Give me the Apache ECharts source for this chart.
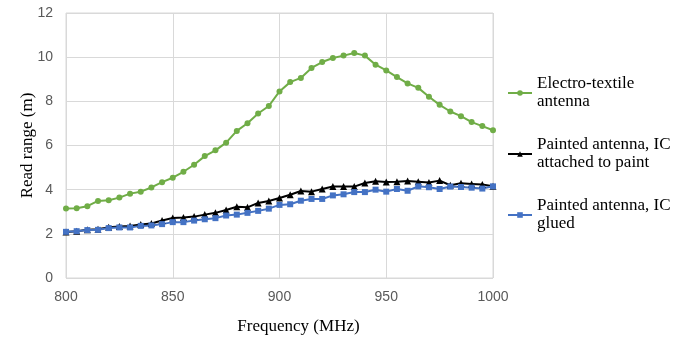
<!DOCTYPE html>
<html>
<head>
<meta charset="utf-8">
<script src="https://cdn.jsdelivr.net/npm/echarts@6/dist/echarts.min.js"></script>
<style>
  html, body { margin: 0; padding: 0; background: #fff; }
  #chart { width: 682px; height: 340px; }
</style>
</head>
<body>
<div id="chart"></div>
<script>
// frequency, every 5 MHz
const freqs = [];
for (let f = 800; f <= 1000; f += 5) freqs.push(f);

const textileRange = [
  3.15, 3.16, 3.25, 3.49, 3.52, 3.64, 3.82, 3.91, 4.10, 4.34,
  4.54, 4.81, 5.13, 5.52, 5.78, 6.13, 6.66, 7.01, 7.45, 7.79,
  8.45, 8.87, 9.06, 9.51, 9.78, 9.96, 10.07, 10.19, 10.07, 9.66,
  9.40, 9.10, 8.81, 8.61, 8.21, 7.84, 7.54, 7.33, 7.06, 6.88,
  6.69
];
const paintAttachedRange = [
  2.08, 2.12, 2.18, 2.21, 2.30, 2.33, 2.36, 2.42, 2.47, 2.60,
  2.72, 2.74, 2.78, 2.87, 2.95, 3.08, 3.23, 3.20, 3.40, 3.49,
  3.62, 3.77, 3.94, 3.91, 4.03, 4.14, 4.14, 4.14, 4.30, 4.38,
  4.35, 4.36, 4.39, 4.36, 4.32, 4.41, 4.20, 4.29, 4.26, 4.23,
  4.15
];
const paintGluedRange = [
  2.09, 2.12, 2.17, 2.18, 2.26, 2.29, 2.29, 2.36, 2.38, 2.44,
  2.53, 2.53, 2.60, 2.66, 2.71, 2.83, 2.87, 2.95, 3.04, 3.14,
  3.31, 3.34, 3.50, 3.58, 3.58, 3.74, 3.79, 3.89, 3.89, 4.00,
  3.91, 4.03, 3.95, 4.15, 4.11, 4.03, 4.14, 4.12, 4.09, 4.05,
  4.15
];

const seriesNames = [
  "Electro-textile antenna",
  "Painted antenna, IC attached to paint",
  "Painted antenna, IC glued"
];
const legendLabels = {
  "Electro-textile antenna": "Electro-textile\nantenna",
  "Painted antenna, IC attached to paint": "Painted antenna, IC\nattached to paint",
  "Painted antenna, IC glued": "Painted antenna, IC\nglued"
};

const pair = arr => freqs.map((f, i) => [f, arr[i]]);

const chart = echarts.init(document.getElementById("chart"));
const option = {
  animation: false,
  backgroundColor: "#fff",
  grid: {
    left: 66, right: 189, top: 13, bottom: 59,
    show: true, borderColor: "#d9d9d9", borderWidth: 1
  },
  legend: {
    orient: "vertical",
    left: 502,
    top: 70,
    itemWidth: 24,
    itemHeight: 7,
    itemGap: 25,
    data: seriesNames,
    formatter: name => legendLabels[name],
    textStyle: {
      fontFamily: "Liberation Serif",
      fontSize: 17,
      lineHeight: 18,
      color: "#000"
    }
  },
  xAxis: {
    type: "value",
    min: 800, max: 1000, interval: 50,
    name: "Frequency (MHz)",
    nameLocation: "middle",
    nameGap: 40,
    nameMoveOverlap: false,
    nameTextStyle: {
      fontFamily: "Liberation Serif", fontSize: 17, color: "#000",
      padding: [0, 0, 0, 38]
    },
    axisLine: { show: false },
    axisTick: { show: false },
    axisLabel: {
      fontFamily: "Liberation Sans", fontSize: 14, color: "#595959", margin: 12,
      formatter: v => String(v)
    },
    splitLine: { show: true, lineStyle: { color: "#d9d9d9" } }
  },
  yAxis: {
    type: "value",
    min: 0, max: 12, interval: 2,
    name: "Read range (m)",
    nameLocation: "middle",
    nameGap: 30,
    nameMoveOverlap: false,
    nameTextStyle: { fontFamily: "Liberation Serif", fontSize: 17, color: "#000" },
    axisLine: { show: false },
    axisTick: { show: false },
    axisLabel: { fontFamily: "Liberation Sans", fontSize: 14, color: "#595959", margin: 13 },
    splitLine: { show: true, lineStyle: { color: "#d9d9d9" } }
  },
  series: [
    {
      name: seriesNames[0],
      type: "line",
      data: pair(textileRange),
      symbol: "circle",
      symbolSize: 6,
      lineStyle: { color: "#70ad47", width: 2 },
      itemStyle: { color: "#70ad47" }
    },
    {
      name: seriesNames[1],
      type: "line",
      data: pair(paintAttachedRange),
      symbol: "triangle",
      symbolSize: 7,
      lineStyle: { color: "#000", width: 2 },
      itemStyle: { color: "#000" }
    },
    {
      name: seriesNames[2],
      type: "line",
      data: pair(paintGluedRange),
      symbol: "rect",
      symbolSize: 6,
      lineStyle: { color: "#4472c4", width: 2 },
      itemStyle: { color: "#4472c4" }
    }
  ]
};
chart.setOption(option);
</script>
</body>
</html>
